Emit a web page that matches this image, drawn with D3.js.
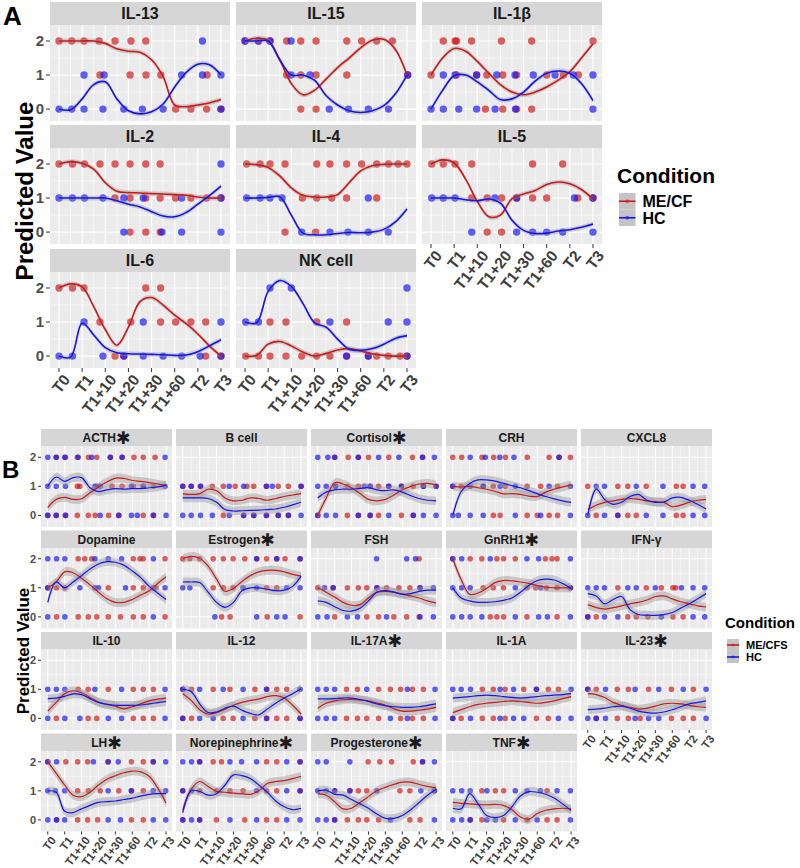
<!DOCTYPE html>
<html><head><meta charset="utf-8">
<script src="https://cdn.jsdelivr.net/npm/d3@7"></script>
<style>body{margin:0;background:#fff} svg text{font-family:"Liberation Sans",Arial,sans-serif}</style>
</head><body><svg id="c" width="800" height="868"></svg>
<script>
// ---------- DATA ----------
const timeLabels = ["T0","T1","T1+10","T1+20","T1+30","T1+60","T2","T3"];
const timeTicks = [0,1,2,3,4,5,6,7];
const lineX = [0,0.5,1,1.5,2,2.5,3,3.5,4,4.5,5,5.5,6,6.5,7];
const yTicks = [0,1,2];
const conditions = ["ME/CF","HC"];
const conditionsB = ["ME/CFS","HC"];

const panelsA = ["IL-13","IL-15","IL-1β","IL-2","IL-4","IL-5","IL-6","NK cell"];
const redLineA = [
 [2,2,2,2,1.93,1.77,1.7,1.67,1.45,0.95,0.12,0.07,0.12,0.18,0.28],
 [2.0,2.08,2.02,1.45,0.75,0.42,0.55,0.88,1.22,1.5,1.8,2.02,2.05,1.75,1.0],
 [1.0,1.5,1.78,1.7,1.4,1.05,0.72,0.5,0.42,0.5,0.65,0.85,1.1,1.5,1.92],
 [2.0,2.07,2.02,1.85,1.45,1.2,1.16,1.15,1.13,1.12,1.1,1.08,1.03,1.0,1.0],
 [2.0,1.98,1.9,1.65,1.3,1.08,1.03,1.03,1.1,1.45,1.8,1.95,1.99,2.0,2.0],
 [2.0,2.12,2.03,1.55,0.9,0.45,0.5,0.98,1.12,1.22,1.4,1.47,1.42,1.25,0.97],
 [2.0,2.12,2.03,1.45,0.78,0.32,0.85,1.6,1.72,1.5,1.2,0.95,0.65,0.3,0.0],
 [0.0,0.02,0.35,0.43,0.3,0.12,0.0,0.08,0.18,0.22,0.15,0.07,0.02,0.0,0.0]
];
const blueLineA = [
 [0,-0.02,0.3,0.72,0.8,0.3,-0.05,-0.14,-0.08,0.15,0.65,1.08,1.32,1.3,1.0],
 [2.0,2.0,2.0,1.45,1.0,1.0,0.85,0.4,0.12,-0.05,-0.1,-0.05,0.1,0.45,1.0],
 [0,0.55,0.98,1.0,0.8,0.55,0.28,0.3,0.5,0.82,1.05,1.12,1.05,0.75,0.25],
 [1.0,1.0,1.0,1.0,1.0,0.92,0.82,0.74,0.6,0.47,0.45,0.58,0.82,1.07,1.35],
 [1.0,1.0,1.02,1.04,0.5,-0.03,-0.08,-0.08,-0.04,-0.01,-0.02,0.0,0.08,0.3,0.68],
 [1.0,1.0,1.0,0.95,0.92,0.97,0.85,0.35,0.05,-0.04,-0.03,0.03,0.07,0.14,0.24],
 [0.0,-0.03,0.97,0.62,0.25,0.1,0.07,0.06,0.05,0.04,0.02,0.03,0.13,0.3,0.48],
 [1.0,0.98,1.9,2.22,2.05,1.55,0.98,0.85,0.5,0.2,0.17,0.22,0.35,0.52,0.6]
];
// points: [x list at level 0, at level 1, at level 2]
const redPtsA = [
 [[5.04,5.7,6.38,7.0],[1.77,3.07,3.76,4.4,6.4],[0,0.55,1.08,1.73,2.42,3.11,3.75]],
 [[2.41,3.07],[1.8,2.41,3.07,4.4,7.03],[0,0.58,1.08,1.8,2.41,3.07,4.4,5.04,5.69,6.37]],
 [[2.35,3.1,3.7,4.35],[0,1.1,1.97,2.41,3.1,3.7,5.0,5.72,6.37],[0.53,1.04,1.1,1.75,3.04,4.35,7.0]],
 [[3.07,3.75,4.37],[2.42,3.07,3.75,4.37,5.04,5.7,6.38,7.0],[0,0.58,1.1,1.77,2.42,3.07,3.75,4.37]],
 [[1.73,3.05],[2.48,3.1,3.75,4.39,5.69],[0.07,0.65,1.08,1.73,3.1,3.67,4.39,5.04,5.69,6.2,6.62,7.0]],
 [[2.43,3.05],[1.76,2.43,3.05,3.7,4.39,5.0,6.34,7.0],[0.03,0.53,1.04,1.76,4.39,5.69]],
 [[2.42,2.8,6.34,7.0],[1.77,3.1,4.39,5.04,5.7,6.34],[0,0.58,1.08,3.75,4.39]],
 [[0.03,0.58,1.08,1.77,2.45,3.1,3.67,4.39,5.33,5.69,6.19,6.7,7.0],[1.08,1.77,3.1,4.39],[]]
];
const bluePtsA = [
 [[0,0.55,1.08,1.9,2.8,3.6,4.5,7.0],[1.08,1.95,5.3,6.2,7.0],[6.2]],
 [[3.64,4.47,5.33,6.2],[1.99,2.81,7.03],[0,0.58,1.08,1.99]],
 [[0,0.53,1.2,1.97,2.77,3.65,7.0],[0.53,1.04,1.97,2.84,3.63,4.42,5.36,6.15,7.0],[]],
 [[2.8,4.45,5.3,7.0],[0,0.58,1.1,1.9,2.8,3.64,5.3,7.0],[7.0]],
 [[2.45,3.67,4.45,5.33,6.19],[0.07,0.65,1.08,1.6,5.33],[]],
 [[1.76,3.7,4.39,5.0,5.69,7.0],[0.03,0.53,1.04,2.76,3.7,6.2,7.0],[]],
 [[0,0.58,1.9,2.8,3.64,4.5,5.3,6.1,7.0],[1.08,3.64,7.0],[]],
 [[4.39,5.33,7.0],[0.03,0.58,3.67,6.19,7.0],[1.08,2.0,7.0]]
];

const panelsB = ["ACTH","B cell","Cortisol","CRH","CXCL8","Dopamine","Estrogen","FSH","GnRH1","IFN-γ","IL-10","IL-12","IL-17A","IL-1A","IL-23","LH","Norepinephrine","Progesterone","TNF"];
const starB = [1,0,1,0,0, 0,1,0,1,0, 0,0,1,0,1, 1,1,1,1];
const redLineB = [
 [0.27,0.55,0.62,0.55,0.57,0.78,0.98,1.15,1.28,1.27,1.2,1.17,1.13,1.08,1.03],
 [0.75,0.72,0.75,0.9,0.85,0.6,0.5,0.52,0.6,0.58,0.52,0.58,0.65,0.7,0.75],
 [0.0,0.6,1.12,1.08,0.95,0.75,0.55,0.5,0.55,0.7,0.88,1.0,1.08,1.1,1.05],
 [1.0,0.98,1.0,0.95,0.9,0.83,0.74,0.75,0.72,0.66,0.65,0.8,0.9,0.98,1.05],
 [0.2,0.35,0.45,0.5,0.55,0.58,0.55,0.5,0.47,0.45,0.3,0.35,0.45,0.52,0.55],
 [1.0,1.2,1.55,1.52,1.33,1.1,0.85,0.62,0.5,0.5,0.6,0.75,0.9,1.15,1.38],
 [2.0,2.08,2.02,1.75,1.3,0.88,0.98,1.22,1.42,1.55,1.6,1.6,1.55,1.46,1.4],
 [1.0,0.85,0.68,0.5,0.4,0.42,0.65,0.85,0.88,0.85,0.78,0.72,0.65,0.55,0.48],
 [2.0,1.28,0.78,0.82,0.98,1.18,1.25,1.24,1.2,1.15,1.08,1.02,1.0,1.0,1.0],
 [0.42,0.32,0.27,0.32,0.38,0.45,0.5,0.58,0.7,0.72,0.62,0.52,0.45,0.38,0.34],
 [0.25,0.55,0.85,0.95,0.88,0.72,0.56,0.48,0.42,0.33,0.4,0.5,0.6,0.66,0.7],
 [0.85,0.62,0.3,0.15,0.2,0.32,0.45,0.55,0.62,0.66,0.75,0.78,0.7,0.45,0.15],
 [0.35,0.52,0.6,0.64,0.65,0.63,0.6,0.53,0.45,0.33,0.25,0.25,0.28,0.32,0.38],
 [0.2,0.3,0.4,0.48,0.52,0.55,0.58,0.6,0.58,0.55,0.52,0.55,0.6,0.68,0.75],
 [0.85,0.82,0.72,0.55,0.45,0.38,0.32,0.35,0.42,0.5,0.52,0.5,0.45,0.4,0.38],
 [2.0,1.6,1.2,0.85,0.8,0.95,1.2,1.4,1.52,1.62,1.68,1.65,1.5,1.1,0.58],
 [0.35,1.05,1.32,1.15,0.98,0.95,0.92,0.9,0.88,1.0,1.25,1.32,1.35,1.42,1.5],
 [0.9,0.85,0.62,0.38,0.4,0.6,0.8,1.0,1.12,1.22,1.3,1.3,1.22,1.15,1.1],
 [0.6,0.57,0.55,0.53,0.52,0.53,0.5,0.35,0.1,0.02,0.22,0.33,0.38,0.4,0.38]
];
const blueLineB = [
 [1.0,1.32,1.17,1.3,1.3,0.95,0.82,0.88,0.92,0.9,0.92,0.92,0.95,0.98,1.03],
 [0.6,0.6,0.6,0.58,0.45,0.2,0.15,0.16,0.17,0.18,0.2,0.22,0.28,0.36,0.45],
 [0.6,0.8,0.88,0.9,0.9,0.93,0.95,0.88,0.85,0.88,0.8,0.68,0.58,0.52,0.5],
 [0.0,0.82,1.1,1.22,1.22,1.18,1.1,1.02,0.95,0.85,0.75,0.65,0.57,0.5,0.45],
 [0.0,0.9,0.55,0.38,0.45,0.65,0.72,0.52,0.45,0.46,0.6,0.62,0.52,0.38,0.22],
 [0.5,1.2,1.0,1.2,1.42,1.65,1.82,1.9,1.88,1.78,1.58,1.35,1.05,0.82,0.6],
 [1.2,1.2,1.18,0.85,0.5,0.33,0.5,0.9,1.0,1.0,0.95,0.9,0.92,1.05,1.4],
 [0.55,0.5,0.35,0.22,0.2,0.3,0.55,0.85,0.9,0.85,0.78,0.8,0.88,0.92,0.92],
 [1.0,0.65,0.55,0.5,0.5,0.52,0.57,0.65,0.85,1.08,1.25,1.3,1.27,1.15,0.98],
 [0.8,0.72,0.45,0.6,0.7,0.25,0.08,0.06,0.05,0.08,0.15,0.3,0.45,0.62,0.8],
 [0.68,0.7,0.76,0.84,0.82,0.68,0.55,0.48,0.45,0.45,0.45,0.46,0.5,0.54,0.58],
 [1.0,0.92,0.5,0.2,0.22,0.35,0.42,0.28,0.17,0.12,0.32,0.52,0.7,0.85,1.02],
 [0.67,0.67,0.68,0.7,0.7,0.65,0.58,0.5,0.44,0.4,0.38,0.38,0.4,0.45,0.5],
 [0.7,0.72,0.75,0.78,0.8,0.78,0.75,0.72,0.7,0.72,0.75,0.78,0.8,0.82,0.85],
 [0.3,0.32,0.35,0.4,0.42,0.35,0.25,0.2,0.18,0.22,0.3,0.4,0.5,0.55,0.6],
 [1.0,0.95,0.3,0.25,0.38,0.5,0.6,0.63,0.65,0.7,0.75,0.82,0.88,0.9,0.9],
 [0.25,1.0,0.98,0.85,0.9,1.2,1.55,1.52,1.42,1.2,0.95,0.65,0.45,0.35,0.4],
 [1.0,1.02,0.88,0.85,0.7,0.55,0.4,0.2,0.05,0.05,0.15,0.35,0.6,0.85,1.05],
 [0.4,0.38,0.9,0.55,0.15,0.08,0.15,0.45,0.82,0.97,0.95,0.88,0.75,0.55,0.32]
];
const redPtsB = [
 [[0,0.5,1.05,1.75,2.4,2.8,3.6,4.2,5.65,6.25],[1.75,1.9,2.9,3.8,4.4,5.06,5.65,6.25],[0.5,1.05,1.75,2.4,2.9,3.7,4.4,5.1,5.65,6.35]],
 [[2.4,3.6,4.2,4.95,5.65,6.25],[0,0.5,1.05,1.75,2.4,3.1,3.8,4.2,4.95,5.65,6.25,7],[]],
 [[0,1.75,2.4,3.1,3.6,4.95,5.65],[1.05,1.75,2.4,3.1,3.6,4.2,4.95,5.65,6.25,7],[1.0,1.8,2.4,3.0,4.2,5.6,6.2]],
 [[2.4,2.8,4.4,5.0,5.7,6.2],[0,0.5,1.8,2.4,3.1,4.4,5.2,6.2],[0,0.53,1.73,2.42,3.12,4.41,5.7,6.29,6.96]],
 [[0.5,1.78,2.37,2.87,5.24,5.64],[0,1.78,2.37,3.46,5.24,5.64],[]],
 [[0.52,1.8,2.4,2.9,3.58,4.3,5.06,5.65,6.94],[0,0.52,1.01,3.58,5.06,5.65,6.4],[1.8,2.19,2.6,5.06,5.45,5.65,6.94]],
 [[2.3,2.8,5.0,6.94],[1.8,2.4,2.98,4.96,5.56],[0,0.42,1.0,1.8,2.4,2.98,3.67,4.37,4.96,5.56,6.05,6.94]],
 [[1.0,2.9,3.6,4.5,5.26,6.0],[0,0.91,1.75,2.4,2.9,3.5,4.07,4.8,5.45,6.05],[6.0]],
 [[2.22,2.61,3.01,4.39,6.17],[1.8,2.4,3.0,4.4,4.9,5.55,6.17,6.96],[0,1.03,1.72,2.61,3.01,3.7,5.48,5.87,6.17]],
 [[0,0.5,2.37,2.87,3.56,5.04,5.64],[1.78,3.46,4.35,5.04,5.2],[]],
 [[0.51,2.39,2.9,5.06,5.65,6.25],[1.8,2.39,3.58,5.06,5.65,6.25],[]],
 [[0,0.52,2.39,2.98,4.27,4.96,5.56,6.15,6.94],[0,0.52,1.8,2.79,4.27,4.96,5.56,6.15],[]],
 [[1.7,2.35,2.9,3.6,4.9,5.6,6.25],[1.7,2.35,3.6,4.3,4.9,5.6,6.25],[]],
 [[0,0.5,1.75,2.4,3.1,4.95,5.65],[1.75,2.4,3.1,4.2,4.95,5.65,6.25],[]],
 [[0.5,1.75,2.4,3.1,4.95,5.65,6.25],[0,0.5,1.75,2.4,3.6,4.95,6.25],[]],
 [[0.52,1.77,2.36,2.95,4.95,5.65],[1.77,2.4,3.1,4.2,4.95,5.65],[0,1.07,1.77,2.36,3.57,4.95,5.65,6.24]],
 [[0,1.0,1.99,3.67,4.96,5.56],[0,1.0,1.99,2.79,3.57,4.96,5.56,6.94],[1.0,1.8,2.29,4.96,5.56,6.94]],
 [[1.0,1.75,2.4,2.9,3.6,5.45,6.05],[1.0,1.9,2.4,2.9,4.86,5.45,6.9],[2.98,3.67,4.37,5.65,6.2]],
 [[1.03,1.72,3.01,4.4,5.58,6.17],[1.72,2.52,3.01,5.58],[]]
];
const bluePtsB = [
 [[0,0.5,1.05,3.1,4.2,4.95,5.3,6.25,7],[0,0.5,1.05,2.79,3.1,4.95,5.65,6.94],[0,0.5,1.0,1.8,2.6,3.7,4.4,6.94]],
 [[0,0.5,1.05,1.75,2.75,3.6,4.2,4.95,5.65,6.25,7],[0,0.5,1.05,2.75,3.6,4.95,5.3,7],[]],
 [[0,0.5,1.05,2.4,3.1,4.2,5.65,6.25,7],[0,0.5,1.05,2.75,3.1,4.2,4.95,6.25,7],[0,0.6,1.0,2.4,3.6,4.8,6.2,6.9]],
 [[0,0.33,1.03,1.8,3.7,5.2,6.96],[0,1.03,1.8,2.8,3.7,5.7,6.96],[1.03,1.93,2.78,3.62,6.29]],
 [[0,0.99,1.78,3.46,4.45,6.23,6.92],[0.5,0.99,2.87,4.45,6.23,6.92],[]],
 [[0,1.01,6.25],[0,1.9,2.79,3.0,4.6,6.25,6.94],[0,0.52,1.01,2.79,3.58,4.37,6.25]],
 [[1.9,4.37,5.56,6.05],[0,0.42,3.57,4.37,6.15,6.94],[4.37,5.56,6.94]],
 [[0,0.55,1.75,2.35,4.07,6.05,6.84],[0.4,0.91,3.5,6.05,6.84],[3.48,5.26,5.78]],
 [[0,0.53,1.03,1.72,3.7,5.08,5.6,6.96],[0,0.53,1.03,3.7,5.2,6.96],[0,0.53,2.22,4.39,5.08,6.96]],
 [[0,0.99,1.78,4.35,6.23,6.92],[0,0.5,0.99,2.37,2.87,4.0,5.54,6.23,6.92],[]],
 [[0,1.01,1.9,3.58,4.37,6.94],[0,0.51,1.01,2.79,4.37,6.94],[]],
 [[0,1.0,1.8,3.57,4.96,6.94],[0,1.0,2.39,3.57,4.96,6.94],[]],
 [[0,0.5,1.0,4.3,5.3,6.94],[0,0.5,1.0,2.9,5.3,6.94],[]],
 [[0,1.05,2.8,3.6,4.2,6.25,7],[0,0.5,1.05,2.8,3.6,4.95,7],[]],
 [[0,0.5,1.05,2.8,3.6,4.2,7],[0,1.05,2.8,4.2,5.65,7],[]],
 [[0,0.52,1.0,3.57,4.3,6.24,6.98],[0,0.45,1.0,3.57,4.95,6.24,6.98],[0,0.52,2.7,3.57,4.17,6.24,6.98]],
 [[0,0.52,1.0,2.79,4.37,6.15,6.94],[0,0.52,4.37,6.15,6.94],[0,0.52,1.0,2.79,3.48,4.37,6.15,6.94]],
 [[0,0.5,1.0,4.3,6.9],[0,0.5,1.0,1.9,3.5,6.1,6.9],[0,0.5,1.9,6.2,6.9]],
 [[0,0.53,1.03,2.02,2.52,3.7,4.99,6.96],[0,0.53,1.03,2.02,3.7,4.4,5.18,6.17,6.96],[]]
];

// ---------- STYLE / LAYOUT ----------
const RED = "#d01818", BLUE = "#1414f5";
const svg = d3.select("#c");

function facet(o) {
  const g = svg.append("g");
  const x = d3.scaleLinear().domain(o.xd).range([o.x, o.x + o.w]);
  const y = d3.scaleLinear().domain(o.yd).range([o.y + o.h, o.y]);
  g.append("rect").attr("x", o.x).attr("y", o.y - o.sh).attr("width", o.w).attr("height", o.sh).attr("fill", "#d6d6d6");
  const t = g.append("text").attr("x", o.x + o.w / 2).attr("y", o.y - o.sh / 2).attr("dy", "0.36em")
    .attr("text-anchor", "middle").attr("font-size", o.sfs).attr("font-weight", "bold").attr("fill", "#1a1a1a").text(o.title);
  if (o.star) t.append("tspan").attr("font-family", "DejaVu Sans").attr("font-size", o.sfs * 1.45).attr("dy", "0.12em").text("\u2731");
  g.append("rect").attr("x", o.x).attr("y", o.y).attr("width", o.w).attr("height", o.h).attr("fill", "#ebebeb");
  const minorX = d3.range(0.5, 7, 1), minorY = [0.5, 1.5];
  g.selectAll(".mx").data(minorX).join("line").attr("x1", d => x(d)).attr("x2", d => x(d)).attr("y1", o.y).attr("y2", o.y + o.h).attr("stroke", "#fff").attr("stroke-width", o.gw * 0.5);
  g.selectAll(".my").data(minorY).join("line").attr("y1", d => y(d)).attr("y2", d => y(d)).attr("x1", o.x).attr("x2", o.x + o.w).attr("stroke", "#fff").attr("stroke-width", o.gw * 0.5);
  g.selectAll(".Mx").data(timeTicks).join("line").attr("x1", d => x(d)).attr("x2", d => x(d)).attr("y1", o.y).attr("y2", o.y + o.h).attr("stroke", "#fff").attr("stroke-width", o.gw);
  g.selectAll(".My").data(yTicks).join("line").attr("y1", d => y(d)).attr("y2", d => y(d)).attr("x1", o.x).attr("x2", o.x + o.w).attr("stroke", "#fff").attr("stroke-width", o.gw);
  [[o.rp, RED], [o.bp, BLUE]].forEach(([pts, col]) => {
    pts.forEach((xs, lvl) => {
      g.selectAll(null).data(xs).join("circle").attr("cx", d => x(d)).attr("cy", y(lvl)).attr("r", o.pr)
        .attr("fill", col).attr("opacity", 0.68);
    });
  });
  const line = d3.line().x((d, i) => x(lineX[i])).y(d => y(d)).curve(d3.curveCatmullRom.alpha(0.5));
  const area = d3.area().x((d, i) => x(lineX[i])).y0(d => y(d - o.se)).y1(d => y(d + o.se)).curve(d3.curveCatmullRom.alpha(0.5));
  [o.rl, o.bl].forEach(v => g.append("path").attr("d", area(v)).attr("fill", "#999").attr("opacity", o.ro));
  [[o.rl, RED], [o.bl, BLUE]].forEach(([v, col]) => g.append("path").attr("d", line(v)).attr("fill", "none").attr("stroke", col).attr("stroke-width", o.lw));
  if (o.yAxis) {
    yTicks.forEach(v => {
      g.append("line").attr("x1", o.x - o.tl).attr("x2", o.x).attr("y1", y(v)).attr("y2", y(v)).attr("stroke", "#333").attr("stroke-width", 1);
      g.append("text").attr("x", o.x - o.tl - 2).attr("y", y(v)).attr("dy", "0.36em").attr("text-anchor", "end")
        .attr("font-size", o.yfs).attr("font-weight", "bold").attr("fill", "#4d4d4d").text(v);
    });
  }
  if (o.xAxis) {
    const yb = o.y + o.h;
    timeTicks.forEach((v, i) => {
      g.append("line").attr("x1", x(v)).attr("x2", x(v)).attr("y1", yb).attr("y2", yb + o.tl).attr("stroke", "#333").attr("stroke-width", 1);
      g.append("text").attr("transform", `translate(${x(v) + o.xfs * 0.2},${yb + o.tl + 1}) rotate(${o.rot})`).attr("dy", "0.72em")
        .attr("text-anchor", "end").attr("font-size", o.xfs).attr("font-weight", "bold").attr("fill", "#3d3d3d").text(timeLabels[i]);
    });
  }
}

const colXA = [50, 236, 422], rowTopA = [2, 125, 249];
panelsA.forEach((name, i) => {
  const c = i % 3, r = Math.floor(i / 3);
  facet({
    x: colXA[c], y: rowTopA[r] + 23, w: 180, h: 96, sh: 23, xd: [-0.39, 7.39], yd: [-0.35, 2.47],
    title: name, star: false, sfs: 16, rp: redPtsA[i], bp: bluePtsA[i], rl: redLineA[i], bl: blueLineA[i],
    se: 0.07, ro: 0.4, pr: 3.7, lw: 1.6, gw: 1.2, tl: 4, yfs: 15, xfs: 15.5, rot: -52,
    yAxis: c === 0, xAxis: (i >= 5)
  });
});
const colXB = [41, 176, 311, 446, 581], rowTopB = [429, 530.5, 632, 733.5];
panelsB.forEach((name, i) => {
  const c = i % 5, r = Math.floor(i / 5);
  facet({
    x: colXB[c], y: rowTopB[r] + 17.5, w: 131, h: 80.5, sh: 17.5, xd: [-0.4, 7.35], yd: [-0.4, 2.37],
    title: name, star: !!starB[i], sfs: 12, rp: redPtsB[i], bp: bluePtsB[i], rl: redLineB[i], bl: blueLineB[i],
    se: 0.15, ro: 0.45, pr: 2.8, lw: 1.2, gw: 1.0, tl: 3, yfs: 11, xfs: 11.5, rot: -53,
    yAxis: c === 0, xAxis: (i >= 14)
  });
});

svg.append("text").attr("x", 3).attr("y", 25).attr("font-size", 26).attr("font-weight", "bold").text("A");
svg.append("text").attr("x", 2).attr("y", 478).attr("font-size", 24).attr("font-weight", "bold").text("B");
svg.append("text").attr("transform", "translate(33,191) rotate(-90)").attr("text-anchor", "middle")
  .attr("font-size", 24).attr("font-weight", "bold").text("Predicted Value");
svg.append("text").attr("transform", "translate(29,651) rotate(-90)").attr("text-anchor", "middle")
  .attr("font-size", 17).attr("font-weight", "bold").text("Predicted Value");

function legend(x, y, title, tfs, labels, ks, lfs, gap) {
  const g = svg.append("g");
  g.append("text").attr("x", x).attr("y", y).attr("font-size", tfs).attr("font-weight", "bold").text(title);
  labels.forEach((lab, i) => {
    const ky = y + gap + i * ks;
    g.append("rect").attr("x", x + 2).attr("y", ky).attr("width", ks).attr("height", ks).attr("fill", "#c4c4c4");
    g.append("line").attr("x1", x + 2).attr("x2", x + 2 + ks).attr("y1", ky + ks / 2).attr("y2", ky + ks / 2)
      .attr("stroke", i === 0 ? RED : BLUE).attr("stroke-width", 1.6);
    g.append("circle").attr("cx", x + 2 + ks / 2).attr("cy", ky + ks / 2).attr("r", ks * 0.12).attr("fill", i === 0 ? RED : BLUE).attr("opacity", 0.5);
    g.append("text").attr("x", x + ks + 9).attr("y", ky + ks / 2).attr("dy", "0.36em").attr("font-size", lfs).attr("font-weight", "bold").text(lab);
  });
}
legend(617, 183, "Condition", 21, conditions, 16.5, 16, 10);
legend(725, 628, "Condition", 15, conditionsB, 12, 11, 11);
</script></body></html>
